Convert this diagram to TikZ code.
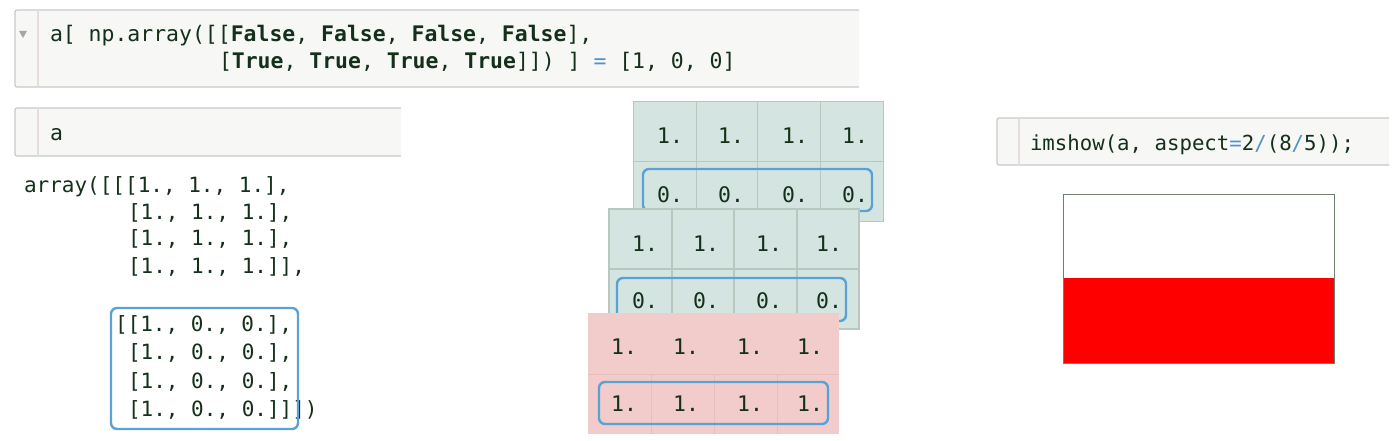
\documentclass[tikz,border=0pt]{standalone}
\usepackage{fontspec}
\setmonofont{DejaVu Sans Mono}
\usepackage{tikz}
\definecolor{inkgreen}{HTML}{14301A}
\definecolor{cellbg}{HTML}{F7F7F6}
\definecolor{cellrule}{HTML}{C4CBC6}
\definecolor{gutterrule}{HTML}{E6DCDC}
\definecolor{boxblue}{HTML}{5AA2D6}
\definecolor{opblue}{HTML}{4F93C8}
\definecolor{mintbg}{HTML}{D4E5E1}
\definecolor{mintrule}{HTML}{B9C8BF}
\definecolor{pinkbg}{HTML}{F2CBCB}
\definecolor{pinkrule}{HTML}{E6BFBD}
\definecolor{framegray}{HTML}{6F7F72}
\tikzset{
  code/.style={anchor=base west,inner sep=0pt,outer sep=0pt,text=inkgreen,font=\fontsize{21}{21}\selectfont\ttfamily},
  bigcode/.style={code,font=\fontsize{21.45}{21.45}\selectfont\ttfamily},
  showcode/.style={code,font=\fontsize{20.7}{20.7}\selectfont\ttfamily},
  num/.style={anchor=base,inner sep=0pt,outer sep=0pt,text=inkgreen,font=\fontsize{21.45}{21.45}\selectfont\ttfamily},
  cellline/.style={draw=cellrule,line width=1.2pt},
  gutter/.style={draw=gutterrule,line width=1.2pt},
  bluebox/.style={draw=boxblue,line width=2.4pt,rounded corners=6pt},
}
\newcommand{\opb}[1]{\textcolor{opblue}{#1}}
\begin{document}
\begin{tikzpicture}[x=1pt,y=-1pt]
  \useasboundingbox (0,0) rectangle (1400,441);
  % code cells
  \fill[cellbg] (15,10) rectangle (859,87);
  \draw[cellline,rounded corners=2pt] (859,10) -- (15,10) -- (15,87) -- (859,87);
  \draw[gutter] (38,10) -- (38,87);
  \fill[gray!70] (19,31) -- (27,31) -- (23,38) -- cycle;
  \fill[cellbg] (15,108) rectangle (401,156);
  \draw[cellline,rounded corners=2pt] (401,108) -- (15,108) -- (15,156) -- (401,156);
  \draw[gutter] (38,108) -- (38,156);
  \fill[cellbg] (997,118) rectangle (1389,165);
  \draw[cellline,rounded corners=2pt] (1389,118) -- (997,118) -- (997,165) -- (1389,165);
  \draw[gutter] (1019,118) -- (1019,165);
  \node[bigcode] (lineone) at (50,42) {a[ np.array([[\textbf{False}, \textbf{False}, \textbf{False}, \textbf{False}],};
  \node[bigcode] (linetwo) at (219,69) {[\textbf{True}, \textbf{True}, \textbf{True}, \textbf{True}]]) ] \opb{=} [1, 0, 0]};
  \node[bigcode] (linea) at (50,140) {a};
  \node[showcode] (lineshow) at (1030,150) {imshow(a, aspect\opb{=}2\opb{/}(8\opb{/}5));};
  % printed array
  \node[code] (outfirst) at (24,192) {array([[[1., 1., 1.],};
  \foreach \y [count=\i] in {219,245}
    \node[code] (outa\i) at (128,\y) {[1., 1., 1.],};
  \node[code] (outa3) at (128,273) {[1., 1., 1.]],};
  \node[code] (outb0) at (115,331) {[[1., 0., 0.],};
  \foreach \y [count=\i] in {359,388}
    \node[code] (outb\i) at (128,\y) {[1., 0., 0.],};
  \node[code] (outb3) at (128,416) {[1., 0., 0.]]])};
  \draw[bluebox] (111,308) rectangle (298,429);
  % back table
  \fill[mintbg] (633,101) rectangle (883,221);
  \draw[mintrule,line width=.8pt] (633,101) rectangle (883,221);
  \foreach \x in {696,757,820}
    \draw[mintrule,line width=.8pt] (\x,101) -- (\x,221);
  \draw[mintrule,line width=.8pt] (633,161) -- (883,161);
  \foreach \x [count=\i] in {670,731,795,855} {
    \node[num] (backa\i) at (\x,144) {1.};
    \node[num] (backb\i) at (\x,202) {0.};
  }
  \draw[bluebox] (643,169) rectangle (872,211);
  % middle table
  \fill[mintbg] (609,209) rectangle (859,329);
  \draw[mintrule,line width=1.5pt] (609,209) rectangle (859,329);
  \foreach \x in {672,734,797}
    \draw[mintrule,line width=1.5pt] (\x,209) -- (\x,329);
  \draw[mintrule,line width=1.5pt] (609,269) -- (859,269);
  \foreach \x [count=\i] in {645,706,769,829} {
    \node[num] (mida\i) at (\x,251) {1.};
    \node[num] (midb\i) at (\x,308) {0.};
  }
  \draw[bluebox] (617,278) rectangle (846,321);
  % front table
  \fill[pinkbg] (588,313) rectangle (839,434);
  \foreach \x in {651,714,777}
    \draw[pinkrule,line width=.6pt] (\x,374) -- (\x,434);
  \draw[pinkrule,line width=.6pt] (588,374) -- (839,374);
  \foreach \x [count=\i] in {624,686,750,810} {
    \node[num] (fronta\i) at (\x,354) {1.};
    \node[num] (frontb\i) at (\x,411) {1.};
  }
  \draw[bluebox] (599,382) rectangle (828,424);
  % image
  \fill[white] (1063,194) rectangle (1334,278);
  \fill[red] (1063,278) rectangle (1334,363);
  \draw[framegray,line width=1pt] (1063,194) rectangle (1334,363);
\end{tikzpicture}
\end{document}
